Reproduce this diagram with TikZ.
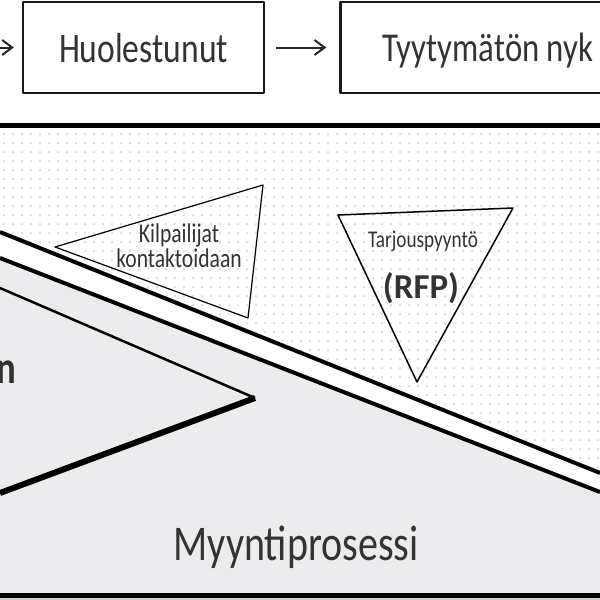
\documentclass[tikz,border=0pt]{standalone}
\usepackage{fontspec}
\usepackage{tikz}
\usetikzlibrary{positioning, arrows.meta}

\newfontfamily\handfont[FakeStretch=0.8]{Carlito}
\newfontfamily\rfpfont{Carlito}

\definecolor{ink}{HTML}{333333}
\definecolor{panel}{HTML}{ECECEE}
\definecolor{dotgray}{HTML}{DADADA}

\tikzset{
  sketchbox/.style={draw=black!90, line width=2.4pt, fill=white, minimum height=91pt,
    text depth=0pt, text=ink, font=\handfont\fontsize{42}{46}\selectfont},
  trilabel/.style={text=ink, align=center, inner sep=0pt},
  flowarrow/.style={->, line width=2pt, draw=black!85}
}

\begin{document}
\begin{tikzpicture}[x=1pt, y=-1pt, >={Straight Barb[length=10pt,width=15pt]}, line join=round]
    \useasboundingbox (0,0) rectangle (600,600);
    \fill[white] (0,0) rectangle (600,600);

    % Define dotted background
    \begin{scope}
        \clip (0,129) -- (600,129) -- (600,473) -- (0,232) -- cycle;
        \foreach \i in {0,...,66}
            \foreach \j in {0,...,38}
                \fill[dotgray] (4+9*\i,134+9*\j) circle (1.25pt);
    \end{scope}

    % Define panel and band
    \fill[panel] (0,258) -- (600,492) -- (600,595) -- (0,595) -- cycle;
    \draw[line width=2.5pt] (0,288) -- (255,398);
    \draw[line width=6pt] (255,398) -- (0,493);
    \draw[line width=4pt] (0,232) -- (600,473);
    \draw[line width=4pt] (0,258) -- (600,492);
    \draw[line width=5pt] (0,125) -- (600,125);
    \draw[line width=5pt] (0,595) -- (600,595);
    \fill[black!20] (0,598) rectangle (600,600);

    % Define triangles
    \draw[line width=1.2pt] (55,247) -- (263,185) -- (248,318) -- cycle;
    \draw[line width=1.5pt] (338,215) -- (513,208) -- (417,382) -- cycle;

    % Define states
    \node[sketchbox, minimum width=241pt] (huoli) at (143.5,47.5) {Huolestunut};
    \node[sketchbox, inner xsep=42pt, font=\handfont\fontsize{41}{45}\selectfont]
        (tyytymaton) [right=74pt of huoli] {Tyytymätön nyk};
    \coordinate (alku) at (-40,47.5);

    % Define labels
    \node[trilabel, font=\handfont\fontsize{27}{25}\selectfont] (kilpailijat) at (179,246)
        {Kilpailijat\\kontaktoidaan};
    \node[trilabel, anchor=base, font=\handfont\fontsize{24}{28}\selectfont] (tarjous) at (423,247)
        {Tarjouspyyntö};
    \node[trilabel, font=\rfpfont\bfseries\fontsize{35}{40}\selectfont] (rfp) at (421,288) {(RFP)};
    \node[trilabel, anchor=base, font=\handfont\fontsize{50}{56}\selectfont] (myynti) at (296,560)
        {Myyntiprosessi};
    \node[trilabel, anchor=base east, font=\handfont\bfseries\fontsize{46}{50}\selectfont] (vaihe) at (16,383)
        {n};

    % Define transitions
    \draw[flowarrow, shorten >=8pt] (alku) -- (huoli);
    \draw[flowarrow, shorten <=11pt, shorten >=13pt] (huoli) -- (tyytymaton);
\end{tikzpicture}
\end{document}
